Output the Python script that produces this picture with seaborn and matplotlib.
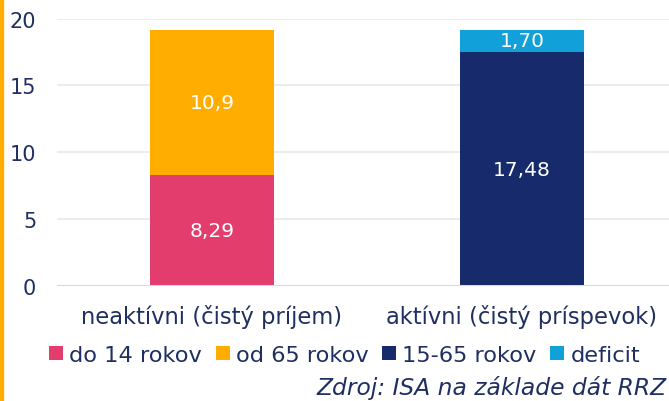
import matplotlib
matplotlib.use("Agg")
import matplotlib.pyplot as plt
import seaborn as sns
from matplotlib.lines import Line2D
from matplotlib.patches import Rectangle

# data
categories = ["neaktívni (čistý príjem)", "aktívni (čistý príspevok)"]
series_names = ["do 14 rokov", "od 65 rokov", "15-65 rokov", "deficit"]
do_14 = [8.29, 0.0]
od_65 = [10.9, 0.0]
aktivni_15_65 = [0.0, 17.48]
deficit = [0.0, 1.70]
value_labels = {"do 14 rokov": ["8,29", ""], "od 65 rokov": ["10,9", ""],
                "15-65 rokov": ["", "17,48"], "deficit": ["", "1,70"]}
source_text = "Zdroj: ISA na základe dát RRZ"

colors = ["#e33d6e", "#ffad00", "#172b6c", "#12a0d8"]
navy = "#1f2f61"

sns.set_style("white")
plt.rcParams["font.family"] = ["DejaVu Sans"]

fig = plt.figure(figsize=(6.69, 4.02), dpi=100)
ax = fig.add_axes([57 / 669, 1 - 286.7 / 402, 1 - 57 / 669, (286.7 - 19.7) / 402])

layers = [do_14, od_65, aktivni_15_65, deficit]
bottom = [0.0, 0.0]
for name, vals, col in zip(series_names, layers, colors):
    sns.barplot(x=categories, y=vals, bottom=bottom, color=col, width=0.4,
                saturation=1, linewidth=0, ax=ax, zorder=3)
    for i, (v, b) in enumerate(zip(vals, bottom)):
        lab = value_labels[name][i]
        if v > 0 and lab:
            ax.text(i, b + v / 2, lab, ha="center", va="center",
                    color="white", fontsize=14.5)
    bottom = [b + v for b, v in zip(bottom, vals)]

ax.set_xlim(-0.5, 1.474)
ax.set_ylim(0, 20)
ax.set_yticks([0, 5, 10, 15, 20])
ax.yaxis.grid(True, color="#ececec", linewidth=1.5, zorder=0)
ax.axhline(0, color="#cdd9f2", linewidth=2.2, zorder=4)
for s in ax.spines.values():
    s.set_visible(False)
ax.tick_params(axis="y", length=0, pad=15, labelsize=15, labelcolor=navy)
ax.tick_params(axis="x", length=0, pad=13, labelsize=16.3, labelcolor=navy)
ax.set_xlabel("")
ax.set_ylabel("")

handles = [Line2D([], [], marker="s", linestyle="none", markersize=10,
                  markerfacecolor=c, markeredgewidth=0) for c in colors]
fig.legend(handles, series_names, loc="center", bbox_to_anchor=(345 / 669, 1 - 356 / 402),
           ncol=4, frameon=False, fontsize=16.2, labelcolor=navy,
           handlelength=0.55, handletextpad=0.3, columnspacing=0.65, borderpad=0)

fig.text(667 / 669, 1 - 388 / 402, source_text, ha="right", va="center",
         fontsize=16.8, style="italic", color=navy)

fig.add_artist(Rectangle((0, 0), 3 / 669, 1, transform=fig.transFigure,
                         color="#ffad00", zorder=10))

fig.savefig("out.png", dpi=100)
